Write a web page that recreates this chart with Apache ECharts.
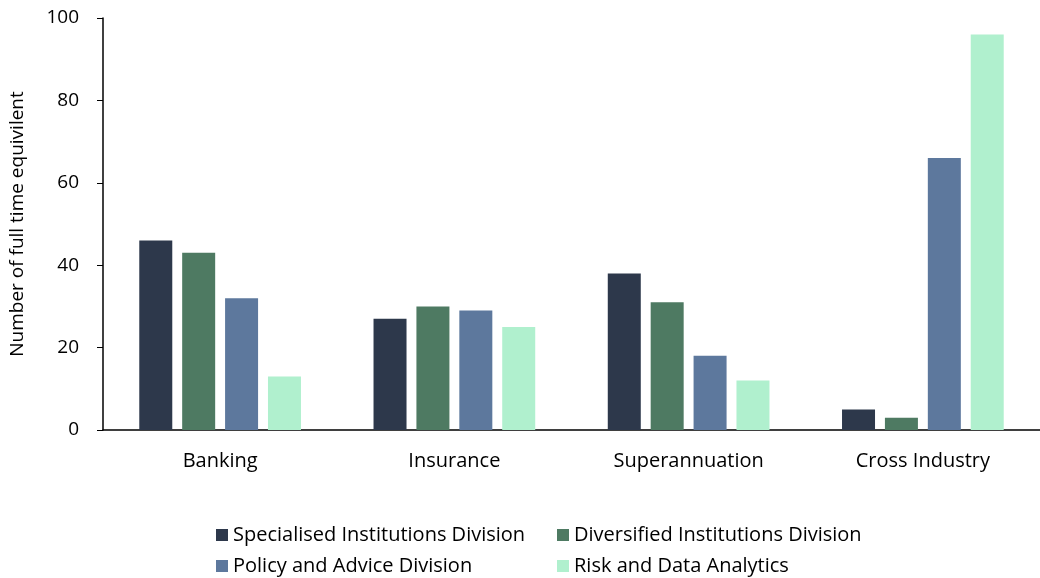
<!DOCTYPE html>
<html><head><meta charset="utf-8">
<script src="https://cdn.jsdelivr.net/npm/echarts@6/dist/echarts.min.js"></script>
<style>html,body{margin:0;padding:0;background:#fff}#c{width:1040px;height:578px}</style>
</head><body><div id="c"></div>
<script>
const categories = ['Banking', 'Insurance', 'Superannuation', 'Cross Industry'];
const seriesNames = ['Specialised Institutions Division', 'Diversified Institutions Division', 'Policy and Advice Division', 'Risk and Data Analytics'];
const specialised = [46, 27, 38, 5];
const diversified = [43, 30, 31, 3];
const policy = [32, 29, 18, 66];
const risk = [13, 25, 12, 96];
const colors = ['#2D384B', '#4E7A62', '#5D789D', '#B0F0CE'];
const values = [specialised, diversified, policy, risk];
const font = "'Open Sans', 'Liberation Sans', sans-serif";
const chart = echarts.init(document.getElementById('c'), null, {renderer: 'canvas'});
const legendText = {fontFamily: font, fontSize: 20, color: '#000', lineHeight: 20};
const legendBase = {orient: 'vertical', top: 525, padding: 0, height: 53, itemWidth: 12, itemHeight: 12, itemGap: 11, icon: 'rect', textStyle: legendText};
chart.setOption({
  animation: false,
  color: colors,
  grid: {left: 103, right: 0, top: 18, bottom: 148},
  legend: [
    Object.assign({data: [seriesNames[0], seriesNames[2]], left: 216}, legendBase),
    Object.assign({data: [seriesNames[1], seriesNames[3]], left: 557}, legendBase)
  ],
  xAxis: {
    type: 'category', data: categories,
    axisLine: {lineStyle: {color: '#000', width: 1.5}},
    axisTick: {show: false},
    axisLabel: {fontFamily: font, fontSize: 20, color: '#000', margin: 21}
  },
  yAxis: {
    type: 'value', min: 0, max: 100, interval: 20,
    name: 'Number of full time equivilent', nameLocation: 'middle', nameGap: 76,
    nameTextStyle: {fontFamily: font, fontSize: 19, color: '#000'},
    axisLine: {show: true, lineStyle: {color: '#000', width: 1.5}},
    axisTick: {show: true, length: 6, lineStyle: {color: '#000'}},
    splitLine: {show: false},
    axisLabel: {fontFamily: font, fontSize: 19, color: '#000', margin: 24}
  },
  series: seriesNames.map((n, i) => ({
    name: n, type: 'bar', data: values[i], barWidth: 33, barGap: '30%',
    itemStyle: {color: colors[i]}
  }))
});
</script></body></html>
